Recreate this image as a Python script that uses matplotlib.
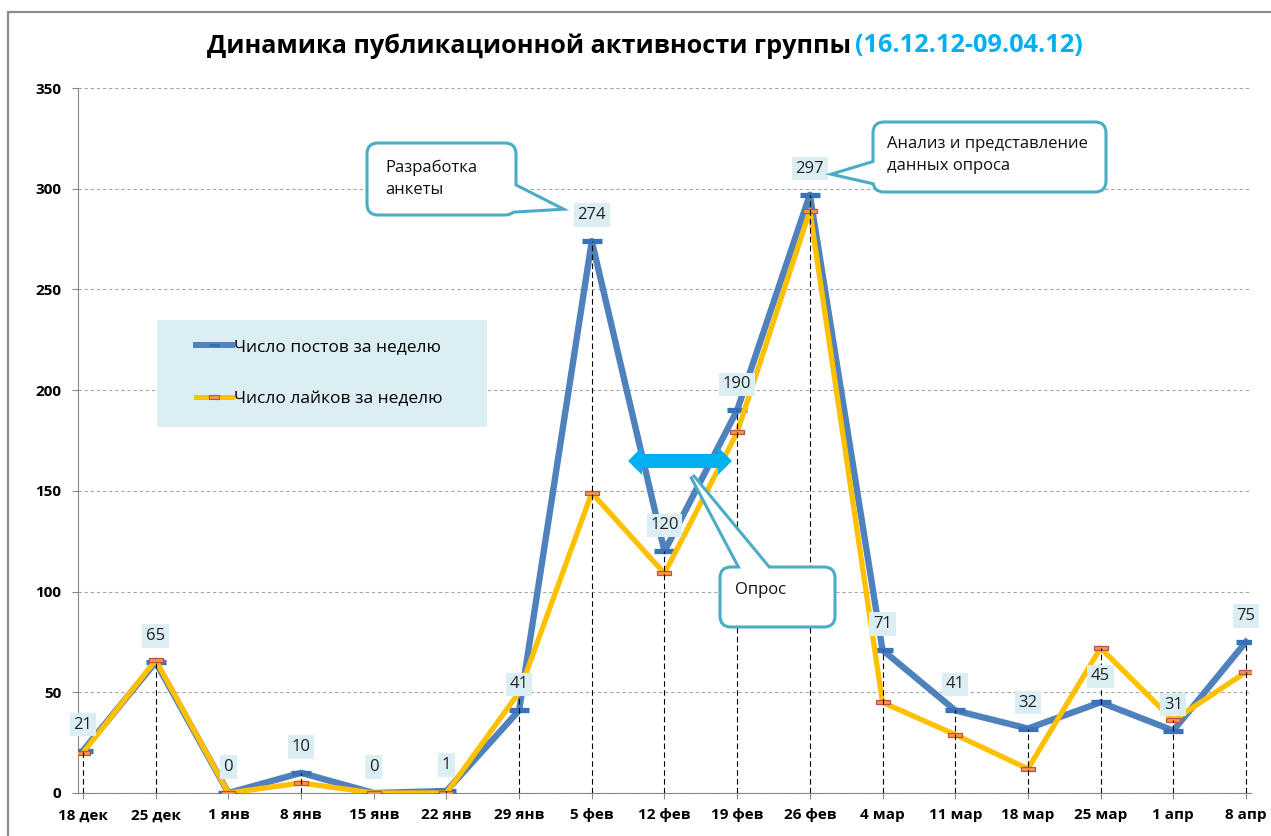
import numpy as np
import matplotlib
matplotlib.use('Agg')
import matplotlib.pyplot as plt
from matplotlib.patches import FancyBboxPatch, Polygon, Rectangle
from matplotlib.lines import Line2D

weeks = ['18 дек', '25 дек', '1 янв', '8 янв', '15 янв', '22 янв', '29 янв', '5 фев', '12 фев',
         '19 фев', '26 фев', '4 мар', '11 мар', '18 мар', '25 мар', '1 апр', '8 апр']
posts = [21, 65, 0, 10, 0, 1, 41, 274, 120, 190, 297, 71, 41, 32, 45, 31, 75]
likes = [20, 66, 0, 5, 0, 0, 50, 149, 109, 179, 289, 45, 29, 12, 72, 36, 60]

BLUE = '#4F81BD'
BLUE_MK = '#3A72BA'
YELLOW = '#FFC000'
TEAL = '#4BACC6'
LABEL_BG = '#DBEEF4'
plt.rcParams['font.family'] = ['Open Sans', 'DejaVu Sans']

W, H = 1271, 836
fig = plt.figure(figsize=(W / 100, H / 100), dpi=100)
ax = fig.add_axes([78 / W, (H - 793) / H, (1251 - 78) / W, (793 - 88) / H])
x = np.arange(len(weeks))
ax.set_xlim(-0.069, 16.07)
ax.set_ylim(0, 350)

# grid / axes
ax.set_yticks(range(0, 351, 50))
ax.yaxis.grid(True, color='#A6A6A6', lw=0.8, linestyle=(0, (3, 2.5)))
ax.set_axisbelow(True)
ax.set_xticks(x)
ax.set_xticklabels(weeks)
for s in ['top', 'right']:
    ax.spines[s].set_visible(False)
for s in ['left', 'bottom']:
    ax.spines[s].set_color('#888888')
    ax.spines[s].set_linewidth(0.8)
ax.tick_params(axis='y', length=4, color='#888888', pad=8, labelsize=11)
ax.tick_params(axis='x', length=4, color='#888888', pad=7, labelsize=11)
for lab in ax.get_xticklabels() + ax.get_yticklabels():
    lab.set_fontweight('bold')

# series
rect = [(-1, -0.32), (1, -0.32), (1, 0.32), (-1, 0.32), (-1, -0.32)]
ax.plot(x, posts, color=BLUE, lw=4.6, marker='_', ms=15, mew=3.8, mec=BLUE_MK, zorder=3,
        solid_joinstyle='round')
ax.plot(x, likes, color=YELLOW, lw=3.8, marker=rect, ms=10, mfc='#F79646', mec='#C0504D',
        mew=0.9, zorder=3.5, solid_joinstyle='round')

# drop lines
ax.vlines(x, 0, np.maximum(posts, likes), colors='black', linestyles=(0, (5, 3)), lw=0.8, zorder=4)

# data labels
for i, v in enumerate(posts):
    ax.annotate(str(v), (i, v), xytext=(0, 26), textcoords='offset pixels', ha='center',
                va='center', fontsize=12, color='#222222',
                bbox=dict(boxstyle='square,pad=0.22', fc=LABEL_BG, ec='none'), zorder=9)

# legend
ax.add_patch(Rectangle((157 / W, 1 - 427 / H), 330 / W, 107 / H, transform=fig.transFigure,
                       fc='#DAEEF3', ec='none', zorder=5, clip_on=False))
h1 = Line2D([], [], color=BLUE, lw=4.3, marker='_', ms=7, mew=2, mec='#2E6DB8')
h2 = Line2D([], [], color=YELLOW, lw=3.6, marker=rect, ms=7, mfc='#F79646', mec='#C0504D', mew=0.8)
leg = ax.legend([h1, h2], ['Число постов за неделю', 'Число лайков за неделю'],
                loc='center left', bbox_to_anchor=(180 / W, 1 - 373 / H),
                bbox_transform=fig.transFigure, frameon=False, fontsize=12.5,
                handlelength=2.1, handletextpad=0.1, labelspacing=2.05, numpoints=1)
leg.set_zorder(6)

fig.canvas.draw()
inv = ax.transData.inverted()


def P(px, py):
    return inv.transform((px, H - py))


sx = ax.transData.transform((1, 0))[0] - ax.transData.transform((0, 0))[0]
sy = ax.transData.transform((0, 1))[1] - ax.transData.transform((0, 0))[1]


def callout(box, tail, text, tx, ty):
    (x0, y0), (x1, y1) = P(box[0], box[3]), P(box[2], box[1])
    pts = [P(*p) for p in tail]
    ax.add_patch(Polygon(pts, closed=True, fc='white', ec=TEAL, lw=4.4, joinstyle='miter',
                         zorder=10, clip_on=False))
    ax.add_patch(FancyBboxPatch((x0, y0), x1 - x0, y1 - y0,
                                boxstyle='round,pad=0,rounding_size=%f' % (11 / sx),
                                mutation_aspect=sx / sy, fc='white', ec=TEAL, lw=2.2,
                                zorder=11, clip_on=False))
    ax.add_patch(Polygon(pts, closed=True, fc='white', ec='none', zorder=12, clip_on=False))
    tpos = P(tx, ty)
    ax.text(tpos[0], tpos[1], text, ha='left', va='center', fontsize=12, color='#111111',
            linespacing=1.55, zorder=13)


callout((367, 143, 516, 215), [(495, 176), (558, 208), (490, 212)],
        'Разработка\nанкеты', 385, 179)
callout((873, 122, 1106, 192), [(890, 158), (837, 174), (890, 186)],
        'Анализ и представление\nданных опроса', 887, 155)
callout((720, 567, 835, 627), [(747, 580), (692, 476), (778, 580)],
        'Опрос', 735, 590)

# double arrow
cx, cy, hl, hh, sh, hd = 680, 461, 52, 14, 7, 14
arrow_px = [(cx - hl, cy), (cx - hl + hd, cy - hh), (cx - hl + hd, cy - sh), (cx + hl - hd, cy - sh),
            (cx + hl - hd, cy - hh), (cx + hl, cy), (cx + hl - hd, cy + hh), (cx + hl - hd, cy + sh),
            (cx - hl + hd, cy + sh), (cx - hl + hd, cy + hh)]
ax.add_patch(Polygon([P(*p) for p in arrow_px], closed=True, fc='#00B0F0', ec='none', zorder=9))

# outer chart border
fig.add_artist(Rectangle((8 / W, -0.2), 2, 1.2 - 12 / H, transform=fig.transFigure,
                         fill=False, ec='#8C8C8C', lw=1.6))

# title in two colours
r = fig.canvas.get_renderer()
t1 = fig.text(0, 1 - 46 / H, 'Динамика публикационной активности группы', fontsize=20,
              fontweight='bold', va='center', color='black')
t2 = fig.text(0, 1 - 46 / H, '(16.12.12-09.04.12)', fontsize=20, fontweight='bold',
              va='center', color='#00B0F0')
w1 = t1.get_window_extent(r).width
w2 = t2.get_window_extent(r).width
scale = (875 - 8) / (w1 + w2)
fs = 20 * scale
t1.set_fontsize(fs)
t2.set_fontsize(fs)
w1 *= scale
t1.set_x(207 / W)
t2.set_x((207 + w1 + 8) / W)

fig.savefig('out.png', dpi=100)
